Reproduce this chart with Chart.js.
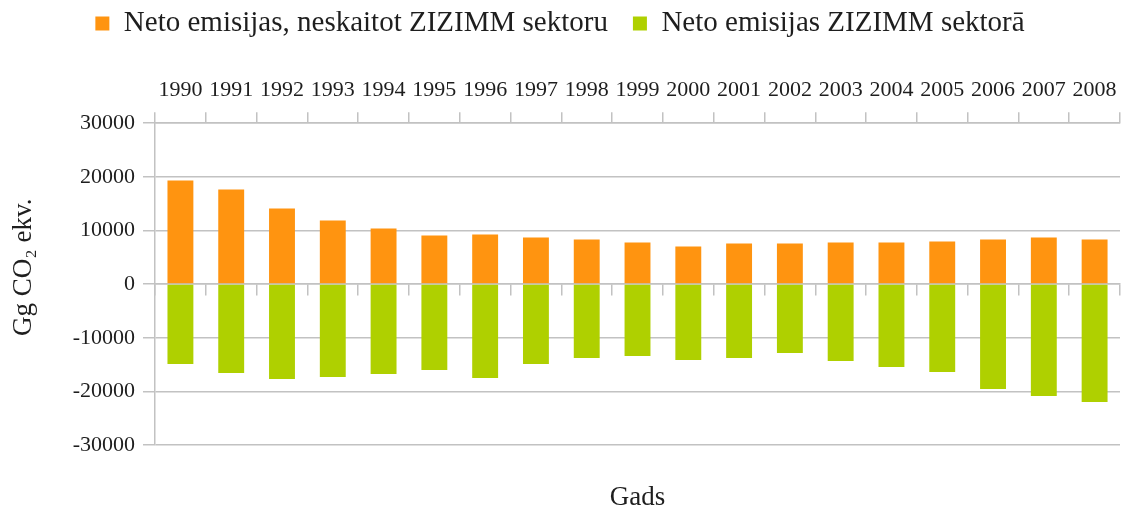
<!DOCTYPE html>
<html>
<head>
<meta charset="utf-8">
<script src="https://cdn.jsdelivr.net/npm/chart.js@4"></script>
<style>
html,body{margin:0;padding:0;background:#fff;}
#wrap{width:1121px;height:507px;position:relative;}
</style>
</head>
<body>
<div id="wrap"><canvas id="c"></canvas></div>
<script>
const years = ['1990','1991','1992','1993','1994','1995','1996','1997','1998','1999','2000','2001','2002','2003','2004','2005','2006','2007','2008'];
const netoBezZizimm = [19300,17630,14100,11860,10370,9070,9250,8700,8320,7760,7020,7580,7580,7760,7760,7950,8320,8700,8320];
const netoZizimm = [-14900,-16570,-17690,-17320,-16760,-16010,-17500,-14900,-13780,-13410,-14150,-13780,-12850,-14340,-15460,-16390,-19550,-20860,-21970];
const yTickValues = [30000,20000,10000,0,-10000,-20000,-30000];
const seriesNames = ['Neto emisijas, neskaitot ZIZIMM sektoru','Neto emisijas ZIZIMM sektorā'];

const FONT = 'Liberation Serif';
const GRID = '#c2c2c2';
const TXT = '#1e1e1e';

new Chart(document.getElementById('c'), {
  type: 'bar',
  data: {
    labels: years,
    datasets: [
      {label: seriesNames[0], data: netoBezZizimm, backgroundColor: '#ff9410', borderWidth: 0, categoryPercentage: 1, barPercentage: 0.51},
      {label: seriesNames[1], data: netoZizimm, backgroundColor: '#afd000', borderWidth: 0, categoryPercentage: 1, barPercentage: 0.51}
    ]
  },
  options: {
    responsive: true,
    maintainAspectRatio: false,
    animation: false,
    layout: {padding: {top: -16, left: 0, right: 1, bottom: -4.5}},
    plugins: {
      tooltip: {enabled: false},
      legend: {
        position: 'top',
        labels: {
          font: {family: FONT, size: 29},
          color: TXT,
          boxWidth: 14,
          boxHeight: 14,
          padding: 25
        }
      }
    },
    scales: {
      x: {
        type: 'category',
        position: 'top',
        stacked: true,
        offset: true,
        grid: {display: true, drawOnChartArea: false, offset: true, tickLength: 11, color: GRID, lineWidth: 1.5},
        border: {display: true, color: GRID, width: 1.5},
        ticks: {font: {family: FONT, size: 22, lineHeight: 1.818}, color: TXT, padding: 2, maxRotation: 0, autoSkip: false},
        title: {display: true, text: ' ', font: {family: FONT, size: 10, lineHeight: 1}, padding: {top: 0, bottom: 10.2}}
      },
      xZero: {
        type: 'category',
        axis: 'x',
        position: {y: 0},
        offset: true,
        grid: {display: true, drawOnChartArea: false, offset: true, tickLength: 11, color: GRID, lineWidth: 1.5},
        border: {display: true, color: GRID, width: 1.5},
        ticks: {display: false}
      },
      xTitle: {
        type: 'category',
        axis: 'x',
        position: 'bottom',
        offset: true,
        grid: {display: false, drawTicks: false},
        border: {display: false},
        ticks: {display: false},
        title: {display: true, text: 'Gads', font: {family: FONT, size: 27, lineHeight: 1}, color: TXT, padding: {top: 39.5, bottom: 0}}
      },
      y: {
        stacked: true,
        min: -30000,
        max: 30000,
        afterBuildTicks: (scale) => { scale.ticks = yTickValues.map(v => ({value: v})); },
        grid: {color: GRID, lineWidth: 1.5, tickLength: 12},
        border: {display: true, color: GRID, width: 1.5},
        ticks: {font: {family: FONT, size: 22}, color: TXT, padding: 8, callback: (v) => String(v)},
        title: {display: true, text: '     Gg CO₂ ekv.', font: {family: FONT, size: 27, lineHeight: 1.2}, color: TXT, padding: {top: 7.8, bottom: 24.5}}
      }
    }
  }
});
</script>
</body>
</html>
